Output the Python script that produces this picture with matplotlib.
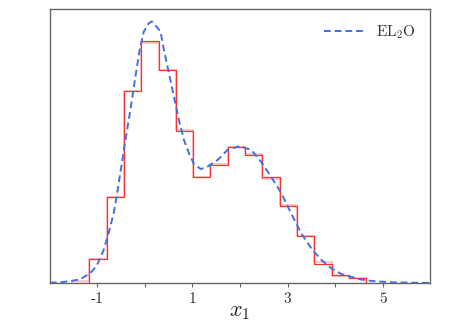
import numpy as np
import matplotlib
matplotlib.use("Agg")
import matplotlib.pyplot as plt

plt.rcParams['mathtext.fontset'] = 'cm'

# Histogram (density)
bin_edges = [-1.532, -1.168, -0.804, -0.440, -0.077, 0.287, 0.651, 1.015,
             1.379, 1.742, 2.106, 2.470, 2.834, 3.198, 3.561, 3.925, 4.289, 4.653]
hist_red = [0.000, 0.039, 0.143, 0.319, 0.401, 0.353, 0.252, 0.176, 0.195,
            0.225, 0.212, 0.175, 0.127, 0.078, 0.032, 0.013, 0.008]
hist_pink = [0.003, 0.039, 0.143, 0.319, 0.398, 0.353, 0.254, 0.176, 0.197,
             0.225, 0.214, 0.172, 0.129, 0.078, 0.034, 0.011, 0.008]

# EL2O density curve
curve_x = [-2.0, -1.8, -1.577, -1.365, -1.153, -1.012, -0.872, -0.766, -0.661,
           -0.610, -0.519, -0.434, -0.307, -0.201, -0.110, -0.025, 0.081, 0.145,
           0.258, 0.328, 0.398, 0.504, 0.610, 0.716, 0.821, 0.927, 1.033, 1.175,
           1.316, 1.528, 1.740, 1.985, 2.233, 2.444, 2.656, 2.868, 3.079, 3.291,
           3.503, 3.714, 3.926, 4.138, 4.349, 4.525, 4.8, 5.2, 5.6, 6.0]
curve_y = [0.0005, 0.001, 0.003, 0.006, 0.016, 0.029, 0.054, 0.082, 0.115,
           0.137, 0.182, 0.226, 0.287, 0.342, 0.387, 0.417, 0.431, 0.434,
           0.424, 0.417, 0.387, 0.348, 0.309, 0.270, 0.237, 0.215, 0.197, 0.189,
           0.193, 0.204, 0.221, 0.227, 0.221, 0.201, 0.176, 0.149, 0.115, 0.082,
           0.057, 0.038, 0.024, 0.0145, 0.010, 0.006, 0.003, 0.001, 0.0004, 0.0001]

major_ticks = [-1, 1, 3, 5]
major_labels = ['-1', '1', '3', '5']
minor_ticks = [0, 2, 4]

fig = plt.figure(figsize=(4.62, 3.23), dpi=100)
ax = fig.add_axes([0.108, 0.124, 0.823, 0.847])

ax.stairs(hist_pink, bin_edges, color='#ff9090', alpha=0.5, linewidth=1.4)
ax.stairs(hist_red, bin_edges, color='#ff3030', linewidth=0.9)
ax.plot(curve_x, curve_y, linestyle='--', color='#3f6fe6', linewidth=1.4,
        dashes=(3.5, 2.0), label=r'$\mathrm{EL}_2\mathrm{O}$')

ax.set_xlim(-2, 6)
ax.set_ylim(0, 0.454)
ax.set_yticks([])
ax.set_xticks(major_ticks)
ax.set_xticklabels(major_labels, fontfamily='cmr10', fontsize=11, color='#333333')
ax.set_xticks(minor_ticks, minor=True)
ax.tick_params(axis='x', which='both', length=3, width=0.8, color='#666666', pad=4)
for s in ax.spines.values():
    s.set_color('#666666')
    s.set_linewidth(1.0)

ax.set_xlabel(r'$x_1$', fontsize=16, labelpad=-3, color='#222222')

leg = ax.legend(loc='upper right', frameon=False, fontsize=11, handlelength=2.6,
                borderaxespad=0.5)
for t in leg.get_texts():
    t.set_color('#333333')

fig.savefig('out.png', dpi=100)
